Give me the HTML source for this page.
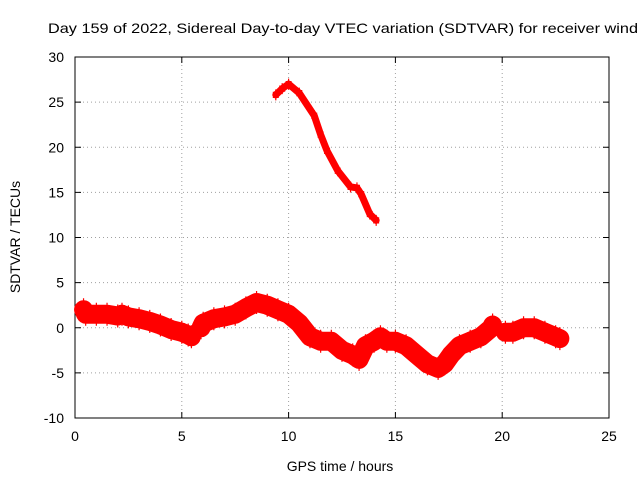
<!DOCTYPE html>
<html><head><meta charset="utf-8"><style>
body{margin:0;background:#fff}
svg{display:block;font-family:"Liberation Sans",sans-serif}
</style></head><body>
<svg id="chart" width="640" height="480" viewBox="0 0 640 480">
<text x="48" y="33" font-size="14" textLength="590" lengthAdjust="spacingAndGlyphs">Day 159 of 2022, Sidereal Day-to-day VTEC variation (SDTVAR) for receiver wind</text>
<g id="grid"></g><g id="axes"></g><g id="series"></g>
<text x="340" y="471" font-size="14" text-anchor="middle">GPS time / hours</text>
<text transform="translate(20,237) rotate(-90)" font-size="14" text-anchor="middle">SDTVAR / TECUs</text>
</svg>
<script>
const xTicks=[0,5,10,15,20,25];
const yTicks=[-10,-5,0,5,10,15,20,25,30];
const lowT=[0.4,0.5,1,1.5,2,2.2,2.5,3,3.5,4,4.5,5,5.3,5.45,null,5.9,6,6.5,7,7.5,8,8.5,9,9.5,10,10.5,11,11.5,12,12.5,13,13.3,13.6,14,14.3,14.6,15,15.5,16,16.5,17,17.3,17.6,18,18.5,19,19.5,19.55,null,20.15,20.5,21,21.5,22,22.5,22.7];
const lowV=[2,1.5,1.5,1.5,1.3,1.5,1.2,1,0.7,0.3,-0.2,-0.5,-0.8,-1,null,0,0.5,1,1.2,1.5,2.2,2.8,2.5,2,1.5,0.5,-1,-1.5,-1.5,-2.5,-3,-3.5,-2,-1.5,-1,-1.5,-1.5,-2,-3,-4,-4.5,-4,-3,-2,-1.5,-1,0,0.3,null,-0.5,-0.5,0,0,-0.5,-1,-1.2];
const upT=[9.4,9.7,10,10.5,11.2,11.5,11.8,12.3,12.9,13.2,13.4,13.8,14.1];
const upV=[25.8,26.5,27,26,23.5,21.4,19.6,17.4,15.6,15.5,14.8,12.6,11.9];
const L=75,R=609,T=57,B=418,NS="http://www.w3.org/2000/svg";
const xs=v=>L+(v-0)/25*(R-L), ys=v=>B-(v+10)/40*(B-T);
function mk(tag,at,parent){const e=document.createElementNS(NS,tag);for(const k in at)e.setAttribute(k,at[k]);parent.appendChild(e);return e;}
const grid=document.getElementById('grid'),axes=document.getElementById('axes'),ser=document.getElementById('series');
mk('rect',{x:L,y:T,width:R-L,height:B-T,fill:'none',stroke:'#000','stroke-width':1},axes);
xTicks.forEach(t=>{const x=xs(t);
 if(t>0&&t<25){const g=mk('line',{x1:x,x2:x,y1:T,y2:B,stroke:'#a0a0a0','stroke-dasharray':'1,3'},grid);}
 mk('line',{x1:x,x2:x,y1:B,y2:B-6,stroke:'#000'},axes);mk('line',{x1:x,x2:x,y1:T,y2:T+6,stroke:'#000'},axes);
 const tx=mk('text',{x:x,y:B+23,'font-size':14,'text-anchor':'middle'},axes);tx.textContent=t;
 
 });
yTicks.forEach(t=>{const y=ys(t);
 if(t>-10&&t<30){const g=mk('line',{x1:L,x2:R,y1:y,y2:y,stroke:'#a0a0a0','stroke-dasharray':'1,3'},grid);}
 mk('line',{x1:L,x2:L+6,y1:y,y2:y,stroke:'#000'},axes);mk('line',{x1:R,x2:R-6,y1:y,y2:y,stroke:'#000'},axes);
 const tx=mk('text',{x:L-11,y:y+5,'font-size':14,'text-anchor':'end'},axes);tx.textContent=t;
 
 });
function drawSeries(ts,vs,w,name){
 let segs=[[]];ts.forEach((t,i)=>{if(t===null){segs.push([]);}else segs[segs.length-1].push([xs(t),ys(vs[i])]);});
 segs.forEach(s=>{if(!s.length)return;
  const p=mk('polyline',{points:s.map(q=>q.join(',')).join(' '),fill:'none',stroke:'#ff0000','stroke-width':w,'stroke-linejoin':'round','stroke-linecap':'round'},ser);
  
  
  s.forEach(q=>{[-w/2+1,w/2-1].forEach(o=>{
   mk('path',{d:`M${q[0]-3},${q[1]+o}h6M${q[0]},${q[1]+o-3}v6`,stroke:'#ff0000','stroke-width':1.2},ser);});});
 });
}
drawSeries(lowT,lowV,19,'sdtvar-lower-series');
drawSeries(upT,upV,7,'sdtvar-upper-series');
</script>
</body></html>
